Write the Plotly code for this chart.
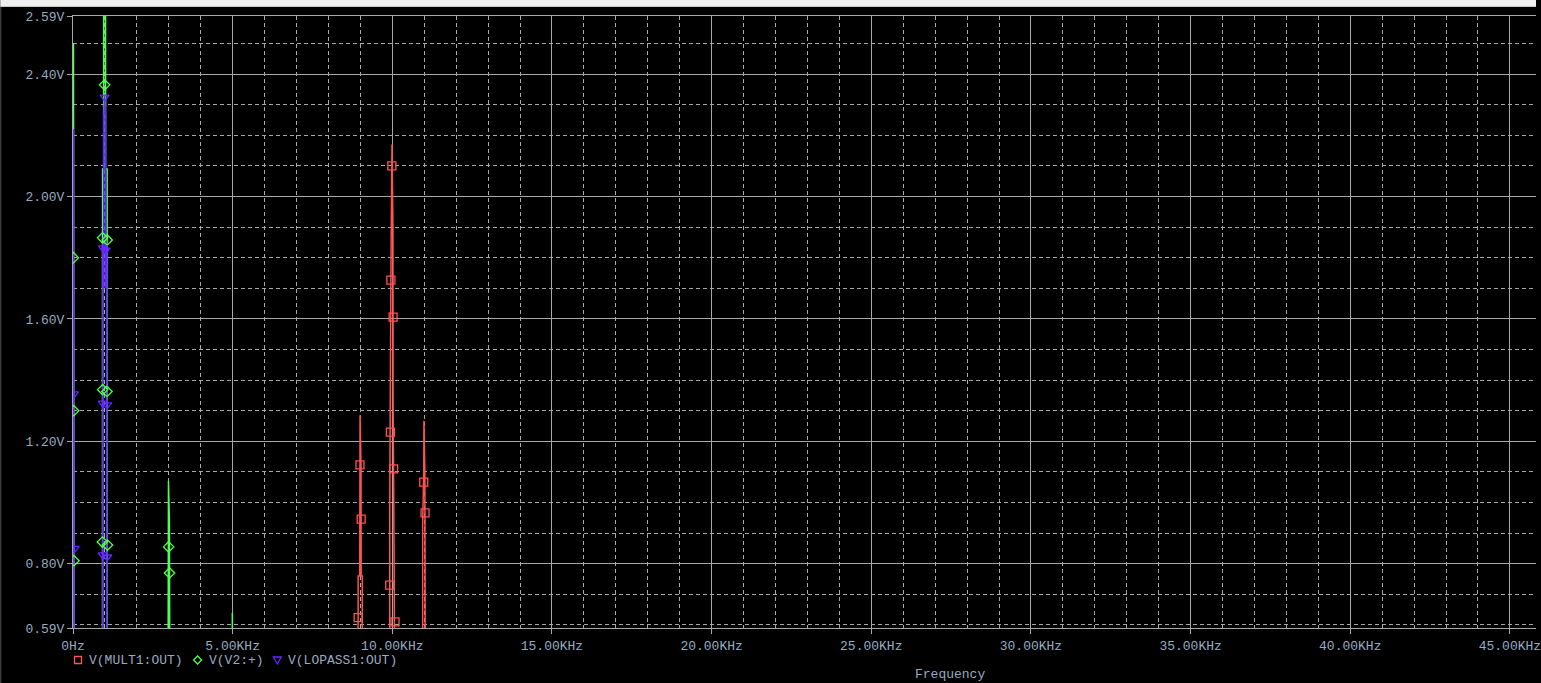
import plotly.graph_objects as go

# ---------------- data (KHz, V) ----------------
# V(MULT1:OUT)  - red
mult1_freq = [8.93, 8.93, 8.98, 8.985, 8.99, 9.02, 9.025, 9.06, 9.06,
              9.92, 9.92, 9.955, 9.99, 10.02, 10.025, 10.055, 10.09,
              10.95, 10.95, 10.985, 10.99, 11.02, 11.025, 11.04, 11.04]
mult1_volt = [0.02, 0.76, 0.76, 1.12, 1.285, 1.12, 0.76, 0.76, 0.02,
              0.02, 0.98, 1.73, 2.17, 1.90, 1.33, 0.85, 0.02,
              0.02, 0.93, 1.10, 1.267, 1.10, 0.76, 0.76, 0.02]
mult1_mark_freq = [8.987, 9.025, 8.93, 9.985, 9.955, 10.025, 9.94, 10.04, 9.92, 10.085, 10.985, 11.025]
mult1_mark_volt = [1.123, 0.946, 0.624, 2.10, 1.727, 1.606, 1.23, 1.11, 0.73, 0.61, 1.067, 0.966]

# V(V2:+)  - green
v2_freq = [0.015, 0.018, 0.032, 0.035, 0.038,
           0.925, 0.925, 0.96, 0.96, 1.02, 1.02, 1.07, 1.07,
           2.97, 2.97, 2.99, 3.02, 3.025, 3.04, 3.04,
           4.99, 4.99, 4.995]
v2_volt = [2.50, 0.05, 0.05, 2.02, 0.03,
           0.02, 2.09, 2.09, 2.75, 2.75, 2.09, 2.09, 0.02,
           0.02, 0.83, 1.07, 0.93, 0.70, 0.70, 0.02,
           0.01, 0.64, 0.01]
v2_mark_freq = [0.012, 0.022, 0.03, 0.99, 0.925, 1.07, 0.93, 1.065, 0.92, 1.08, 2.995, 3.022]
v2_mark_volt = [1.80, 1.30, 0.81, 2.365, 1.865, 1.858, 1.369, 1.363, 0.871, 0.861, 0.855, 0.77]

# V(LOPASS1:OUT)  - violet
lp_freq = [0.015, 0.018, 0.032, 0.035, 0.038,
           0.935, 0.935, 0.963, 0.963, 0.99, 1.02, 1.02, 1.065, 1.065]
lp_volt = [2.22, 0.05, 0.05, 1.80, 0.03,
           0.02, 1.85, 1.70, 2.26, 2.33, 2.26, 1.70, 1.85, 0.02]
lp_mark_freq = [0.025, 0.05, 0.99, 0.935, 1.02, 0.935, 1.065, 0.93, 1.07]
lp_mark_volt = [1.355, 0.85, 2.325, 1.832, 1.825, 1.325, 1.319, 0.829, 0.822]

series_names = ["V(MULT1:OUT)", "V(V2:+)", "V(LOPASS1:OUT)"]

y_tickvals = [0.59, 0.80, 1.20, 1.60, 2.00, 2.40, 2.59]
y_ticktext = ["0.59V", "0.80V", "1.20V", "1.60V", "2.00V", "2.40V", "2.59V"]
y_minorvals = [0.60, 0.70, 0.90, 1.00, 1.10, 1.30, 1.40, 1.50, 1.70, 1.80, 1.90,
               2.10, 2.20, 2.30, 2.50]
x_tickvals = [0, 5, 10, 15, 20, 25, 30, 35, 40, 45]
x_ticktext = ["0Hz", "5.00KHz", "10.00KHz", "15.00KHz", "20.00KHz", "25.00KHz",
              "30.00KHz", "35.00KHz", "40.00KHz", "45.00KHz"]

# ---------------- style ----------------
RED = "#ff5252"
GREEN = "#50ff50"
VIOLET = "#6428ff"
TXT = "#97abc0"
GRID = "#a8a8a8"
FONT = "Liberation Mono, Courier New, monospace"

W, H = 1541, 683
L, T, B, R = 73, 16, 55, 0
PW, PH = W - L - R, H - T - B


def px(xpix):
    return (xpix - L) / PW


def py(ypix):
    return (H - B - ypix) / PH


fig = go.Figure()
for f, v, c in [(mult1_freq, mult1_volt, RED), (v2_freq, v2_volt, GREEN), (lp_freq, lp_volt, VIOLET)]:
    fig.add_trace(go.Scatter(x=f, y=v, mode="lines", line=dict(color=c, width=1.5),
                             showlegend=False, hoverinfo="skip"))
for f, v, c, s in [(mult1_mark_freq, mult1_mark_volt, RED, "square-open"),
                   (v2_mark_freq, v2_mark_volt, GREEN, "diamond-open"),
                   (lp_mark_freq, lp_mark_volt, VIOLET, "triangle-down-open")]:
    fig.add_trace(go.Scatter(x=f, y=v, mode="markers",
                             marker=dict(symbol=s, size=8, color=c, line=dict(color=c, width=1.3)),
                             showlegend=False, hoverinfo="skip"))

fig.update_layout(
    width=W, height=H,
    margin=dict(l=L, r=R, t=T, b=B, pad=0),
    paper_bgcolor="black", plot_bgcolor="black",
    font=dict(family=FONT, size=13, color=TXT),
    showlegend=False,
    xaxis=dict(range=[0, PW / 32.04], tickmode="array", tickvals=x_tickvals, ticktext=x_ticktext,
               showgrid=True, gridcolor=GRID, gridwidth=1, zeroline=False,
               showline=True, mirror=True, linecolor=GRID, linewidth=1,
               ticks="outside", ticklen=5, tickcolor=GRID, layer="below traces",
               ticklabeloverflow="allow",
               tickfont=dict(family=FONT, size=13, color=TXT),
               minor=dict(dtick=1, tick0=0, showgrid=True, gridcolor=GRID, griddash="4px,3px",
                          gridwidth=1, ticks="")),
    yaxis=dict(range=[0.59, 2.59], tickmode="array", tickvals=y_tickvals, ticktext=y_ticktext,
               showgrid=True, gridcolor=GRID, gridwidth=1, zeroline=False,
               showline=True, linecolor=GRID, linewidth=1,
               ticks="outside", ticklen=5, tickcolor=GRID, layer="below traces",
               tickfont=dict(family=FONT, size=13, color=TXT),
               minor=dict(tickmode="array", tickvals=y_minorvals, showgrid=True, gridcolor=GRID,
                          griddash="4px,3px", gridwidth=1, ticks="")),
)

shapes = []
# window chrome at the top and left
shapes.append(dict(type="rect", xref="paper", yref="paper", x0=px(0), x1=px(W), y0=py(6), y1=py(0),
                   fillcolor="#f0f0f0", line=dict(width=0), layer="above"))
shapes.append(dict(type="line", xref="paper", yref="paper", x0=px(0), x1=px(W), y0=py(6.5), y1=py(6.5),
                   line=dict(color="#c8c8c8", width=1), layer="above"))
shapes.append(dict(type="line", xref="paper", yref="paper", x0=px(0.5), x1=px(0.5), y0=py(H), y1=py(7),
                   line=dict(color="#505050", width=1), layer="above"))

# legend (symbols as shapes, labels as annotations)
leg_y = py(660)
sym_x = [78, 198, 278]
shapes.append(dict(type="rect", xref="paper", yref="paper", xsizemode="pixel", ysizemode="pixel",
                   xanchor=px(sym_x[0]), yanchor=leg_y, x0=-3.5, x1=3.5, y0=-3.5, y1=3.5,
                   line=dict(color=RED, width=1.3)))
shapes.append(dict(type="path", xref="paper", yref="paper", xsizemode="pixel", ysizemode="pixel",
                   xanchor=px(sym_x[1]), yanchor=leg_y, path="M 0 4 L 4 0 L 0 -4 L -4 0 Z",
                   line=dict(color=GREEN, width=1.3)))
shapes.append(dict(type="path", xref="paper", yref="paper", xsizemode="pixel", ysizemode="pixel",
                   xanchor=px(sym_x[2]), yanchor=leg_y, path="M -4 3 L 4 3 L 0 -4 Z",
                   line=dict(color=VIOLET, width=1.3)))

annotations = []
for sx, name in zip(sym_x, series_names):
    annotations.append(dict(x=px(sx + 9), y=leg_y, xref="paper", yref="paper", text=name,
                            showarrow=False, xanchor="left", yanchor="middle",
                            font=dict(family=FONT, size=13, color=TXT)))
annotations.append(dict(x=px(953), y=py(683), xref="paper", yref="paper", text="Frequency",
                        showarrow=False, xanchor="center", yanchor="bottom", borderpad=0,
                        font=dict(family=FONT, size=13, color=TXT)))

fig.update_layout(shapes=shapes, annotations=annotations)
fig.write_html("out.html")
